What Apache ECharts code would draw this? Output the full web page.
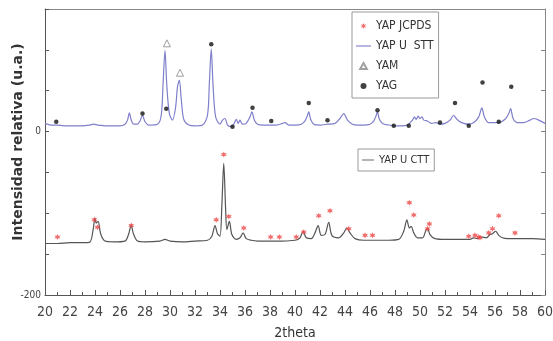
<!DOCTYPE html>
<html>
<head>
<meta charset="utf-8">
<script src="https://cdn.jsdelivr.net/npm/echarts@6/dist/echarts.min.js"></script>
<style>
html,body{margin:0;padding:0;background:#fff;}
#chart{width:553px;height:341px;}
</style>
</head>
<body>
<div id="chart"></div>
<script>
// ---- data ----
const sttX = [20,20.5,21,21.5,22,22.5,23,23.6,23.9,24.2,25,26,26.4,26.6,26.75,26.9,27.1,27.4,27.6,27.8,28.0,28.3,29.0,29.3,29.45,29.6,29.75,29.95,30.2,30.45,30.6,30.75,30.9,31.1,31.5,32,32.6,33.0,33.15,33.3,33.45,33.65,34.0,34.2,34.4,34.6,34.9,35.1,35.3,35.45,35.6,35.8,36.1,36.4,36.55,36.75,37.0,37.5,38.0,38.5,39.0,39.2,39.5,40.0,40.5,40.8,41.0,41.1,41.25,41.5,42.0,42.6,43.2,43.6,43.9,44.2,44.6,45.0,45.5,46.0,46.3,46.5,46.6,46.75,47.0,47.5,48.0,48.5,49.0,49.4,49.55,49.7,49.85,50.0,50.15,50.3,50.6,50.9,51.3,51.6,52.0,52.4,52.7,52.85,53.1,53.5,53.9,54.3,54.7,54.95,55.15,55.5,56.0,56.3,56.8,57.1,57.25,57.45,57.8,58.3,58.8,59.1,59.5,60];
const sttY = [10,8,8,7,7,7,7,8,9,8,7,7,9,14,23,14,9,9,13,20,12,8,9,20,60,99,55,22,14,30,55,63,40,15,8,7,8,20,60,101,55,18,9,14,16,8,6,9,15,10,14,9,10,18,24,14,9,8,8,8,10,11,8,8,9,13,20,24,15,9,8,9,10,16,22,14,9,8,8,9,13,20,24,15,10,8,7,7,8,14,18,15,19,16,18,14,13,10,11,9,10,14,20,17,13,10,9,11,18,29,18,11,11,11,15,22,28,16,11,11,14,16,14,10];

const cttX = [20,21,22,23,23.6,23.85,24.0,24.1,24.25,24.45,24.8,25.5,26.4,26.7,26.9,27.05,27.4,28,29.2,29.6,30,31,32,33,33.35,33.6,33.8,34.0,34.15,34.3,34.45,34.55,34.75,34.95,35.3,35.6,35.85,36.1,36.5,37,38,39,40,40.4,40.65,40.9,41.3,41.6,41.85,42.1,42.4,42.7,42.95,43.5,43.9,44.15,44.4,44.8,45.5,46.5,47.5,48.3,48.7,48.95,49.15,49.3,49.5,49.8,50.2,50.45,50.6,50.8,51.2,52,53,54,54.3,54.6,54.9,55.3,55.6,55.8,56.05,56.3,56.6,57,58,59,60];
const cttY = [-137,-137,-136,-136,-135,-120,-106,-112,-110,-125,-134,-135,-134,-125,-114,-124,-134,-135,-134,-132,-134,-135,-134,-133,-128,-115,-125,-128,-90,-39,-95,-120,-110,-126,-132,-130,-124,-131,-133,-134,-134,-134,-133,-130,-122,-130,-131,-124,-115,-127,-126,-111,-127,-130,-124,-118,-124,-131,-133,-133,-133,-132,-122,-108,-118,-116,-124,-130,-130,-122,-118,-126,-131,-132,-132,-132,-130,-131,-129,-130,-126,-125,-122,-127,-130,-131,-131,-131,-132];

const jcpdsX = [21.0,23.95,24.2,26.9,33.7,34.3,34.7,35.9,38.05,38.75,40.1,40.7,41.9,42.8,44.3,45.6,46.2,49.15,49.5,50.6,50.75,53.9,54.4,54.7,54.8,55.5,55.8,56.3,57.6];
const jcpdsY = [-129,-108,-117,-115,-108,-28,-104,-118,-129,-129,-129,-123,-103,-97,-119,-127,-127,-87,-102,-119,-113,-128,-127,-129,-130,-124,-119,-103,-124];

const yamX = [29.75,30.8];
const yamY = [108,72];

const yagX = [20.9,27.8,29.7,33.3,35.0,36.6,38.1,41.1,42.6,46.6,47.9,49.1,51.6,52.8,53.9,55.0,56.3,57.3];
const yagY = [12,22,28,107,6,29,13,35,14,26,7,7,11,35,7,60,12,55];

const xTicks = [20,22,24,26,28,30,32,34,36,38,40,42,44,46,48,50,52,54,56,58,60];
const yLabels = [0,-200];

const zip = (a,b) => a.map((v,i)=>[v,b[i]]);
const narrow = "'Liberation Sans Narrow','DejaVu Sans Condensed','Liberation Sans',sans-serif";
const starPath = 'path://M0,-10 L2.5,-4.3 L8.7,-5 L5,0 L8.7,5 L2.5,4.3 L0,10 L-2.5,4.3 L-8.7,5 L-5,0 L-8.7,-5 L-2.5,-4.3 Z';
const lineIcon = 'path://M0,0 L40,0 L40,3 L0,3 Z';
const triIcon = 'path://M5,0 L10,9 L0,9 Z';

const chart = echarts.init(document.getElementById('chart'), null, {renderer:'canvas'});
chart.setOption({
  animation:false,
  backgroundColor:'#fff',
  grid:{left:45,right:8,top:9,bottom:46,show:false,containLabel:false,outerBoundsMode:'none'},
  legend:[
    {
      data:['YAP JCPDS',{name:'YAP U  STT',icon:lineIcon},{name:'YAM',icon:triIcon},'YAG'],
      orient:'vertical', left:352, top:12,
      padding:[7,5,5,4],
      itemWidth:15, itemHeight:6, itemGap:6,
      borderColor:'#999', borderWidth:1, backgroundColor:'#fff',
      textStyle:{fontFamily:narrow,fontSize:12,color:'#333',lineHeight:14}
    },
    {
      data:[{name:'YAP U CTT',icon:lineIcon}],
      orient:'vertical', left:358, top:149,
      padding:[4,5,4,4],
      itemWidth:12, itemHeight:6,
      borderColor:'#999', borderWidth:1, backgroundColor:'#fff',
      textStyle:{fontFamily:narrow,fontSize:11,color:'#333',lineHeight:14}
    }
  ],
  xAxis:[
    {
      type:'value', min:20, max:60, interval:2,
      name:'2theta', nameLocation:'middle', nameGap:31, nameMoveOverlap:false,
      nameTextStyle:{fontFamily:narrow,fontSize:14,color:'#333'},
      axisLine:{show:true,onZero:false,lineStyle:{color:'#555',width:1}},
      axisTick:{show:true,inside:true,length:5,lineStyle:{color:'#555'}},
      minorTick:{show:true,splitNumber:2,length:3,lineStyle:{color:'#555'}},
      splitLine:{show:false},
      axisLabel:{fontFamily:narrow,fontSize:14,color:'#444',margin:10,
        formatter:v=>xTicks.includes(v)?String(v):''}
    },
    {
      type:'value', min:20, max:60, position:'top',
      axisLine:{show:true,onZero:false,lineStyle:{color:'#888',width:1}},
      axisTick:{show:false}, axisLabel:{show:false}, splitLine:{show:false}
    }
  ],
  yAxis:[
    {
      type:'value', min:-200, max:150, interval:50,
      name:'Intensidad relativa (u.a.)', nameLocation:'middle', nameGap:20, nameMoveOverlap:false,
      nameTextStyle:{fontFamily:'DejaVu Sans',fontWeight:'bold',fontSize:14,color:'#333',padding:[0,0,0,20]},
      axisLine:{show:true,onZero:false,lineStyle:{color:'#555',width:1}},
      axisTick:{show:true,inside:true,length:4,lineStyle:{color:'#555'}},
      splitLine:{show:false},
      axisLabel:{fontFamily:narrow,fontSize:10,color:'#444',margin:4,
        formatter:v=>yLabels.includes(v)?String(v):''}
    },
    {
      type:'value', min:-200, max:150, interval:50, position:'right',
      axisLine:{show:true,onZero:false,lineStyle:{color:'#888',width:1}},
      axisTick:{show:true,inside:true,length:4,lineStyle:{color:'#888'}},
      axisLabel:{show:false}, splitLine:{show:false}
    }
  ],
  series:[
    {
      name:'YAP U  STT', type:'line', data:zip(sttX,sttY), symbol:'none',
      smooth:0.3, lineStyle:{color:'#7f7fcc',width:1.2}, itemStyle:{color:'#7f7fcc'}, z:2
    },
    {
      name:'YAP U CTT', type:'line', data:zip(cttX,cttY), symbol:'none',
      smooth:0.3, lineStyle:{color:'#555',width:1.2}, itemStyle:{color:'#555'}, z:2
    },
    {
      name:'YAP JCPDS', type:'scatter', data:zip(jcpdsX,jcpdsY),
      symbol:starPath, symbolSize:6, itemStyle:{color:'#ee4a4a'}, z:5
    },
    {
      name:'YAM', type:'scatter', data:zip(yamX,yamY),
      symbol:'triangle', symbolSize:7,
      itemStyle:{color:'#fff',borderColor:'#888',borderWidth:1}, z:5
    },
    {
      name:'YAG', type:'scatter', data:zip(yagX,yagY),
      symbol:'circle', symbolSize:4.5, itemStyle:{color:'#111'}, z:5
    }
  ]
});
</script>
</body>
</html>
